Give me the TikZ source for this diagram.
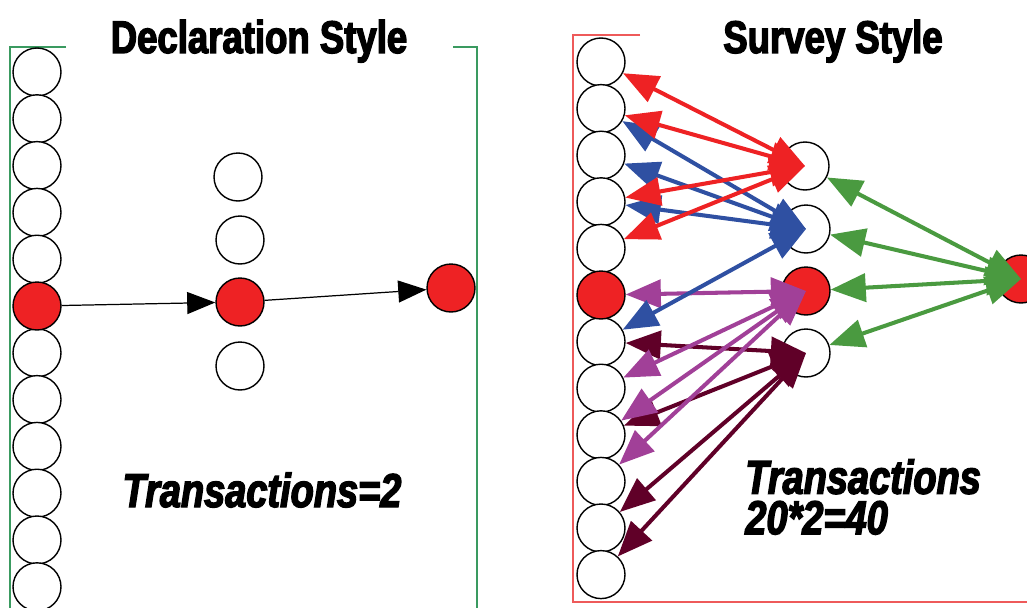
\documentclass[tikz,border=0pt]{standalone}
\usepackage{fontspec}
\setmainfont{Liberation Sans}
\newfontfamily\heavyfont{Liberation Sans Bold}[FakeStretch=0.8, FakeBold=3]
\newfontfamily\heavyslant{Liberation Sans Bold Italic}[FakeStretch=0.8, FakeBold=3]
\usetikzlibrary{arrows.meta, positioning, calc}

\definecolor{svred}{HTML}{EE2224}
\definecolor{svblue}{HTML}{2F50A2}
\definecolor{svpurple}{HTML}{A14098}
\definecolor{svmaroon}{HTML}{600028}
\definecolor{svgreen}{HTML}{4A9A40}
\definecolor{frgreen}{HTML}{3A9A60}
\definecolor{frred}{HTML}{EE5A5A}

\begin{document}
\begin{tikzpicture}[x=0.02cm, y=-0.02cm,
    dot/.style={circle, draw=black, line width=0.8pt, fill=white, inner sep=0pt, minimum size=0.96cm},
    hot/.style={dot, fill=svred},
    flow/.style={line width=0.7pt, -{Triangle[length=16pt, width=12.5pt]}},
    link/.style={line width=2.3pt, {Triangle[length=20pt, width=16pt]}-{Triangle[length=20pt, width=16pt]}},
    title/.style={font=\heavyfont\fontsize{26}{30}\selectfont, inner sep=0pt},
    count/.style={font=\heavyslant\fontsize{27}{23}\selectfont, inner sep=0pt}]
  \useasboundingbox (0,0) rectangle (1027,608);

  % frames
  \draw[frgreen, line width=0.8pt] (66,47) -- (10,47) -- (10,612);
  \draw[frgreen, line width=0.8pt] (453,47) -- (477,47) -- (477,612);
  \draw[frred, line width=0.9pt] (640,35) -- (573,35) -- (573,602) -- (1030,602);

  % declaration style
  \node[title, anchor=base] (decl) at (259,53) {Declaration Style};
  \foreach \i in {0,1,2,3,4,6,7,8,9,10,11}
    \node[dot] (d\i) at (37, 72+46.8*\i) {};
  \node[hot] (d5) at (37, 306) {};

  \node[dot] (m0) at (238,177) {};
  \node[dot] (m1) at (240,240) {};
  \node[hot] (m2) at (240,302) {};
  \node[dot] (m3) at (240,366) {};
  \node[hot] (r) at (451,288) {};

  \draw[flow] (d5) -- (m2);
  \draw[flow] (m2) -- (r);

  \node[count, anchor=base] (tleft) at (262,507) {Transactions=2};

  % survey style
  \node[title, anchor=base] (surv) at (833,53) {Survey Style};
  \foreach \i in {0,1,2,3,4,6,7,8,9,10,11}
    \node[dot] (s\i) at (601, 62+46.6*\i) {};
  \node[hot] (s5) at (601, 295) {};

  \node[dot] (t0) at (805,166) {};
  \node[dot] (t1) at (806,229) {};
  \node[hot] (t2) at (806,291) {};
  \node[dot] (t3) at (806,353) {};
  \node[hot] (u) at (1021,279) {};

  \foreach \j in {6,8,10,11}
    \draw[link, svmaroon] (t3.center) -- (s\j);
  \foreach \j in {5,7,8,9}
    \draw[link, svpurple] (t2.center) -- (s\j);
  \foreach \j in {1,2,3,6}
    \draw[link, svblue] (t1.center) -- (s\j);
  \foreach \j in {0,1,3,4}
    \draw[link, svred] (t0.center) -- (s\j);
  \foreach \j in {0,1,2,3}
    \draw[link, svgreen] (u.center) -- (t\j);

  \node[count, anchor=north west, align=left] (tright) at (745,459) {Transactions\\20*2=40};
\end{tikzpicture}
\end{document}
